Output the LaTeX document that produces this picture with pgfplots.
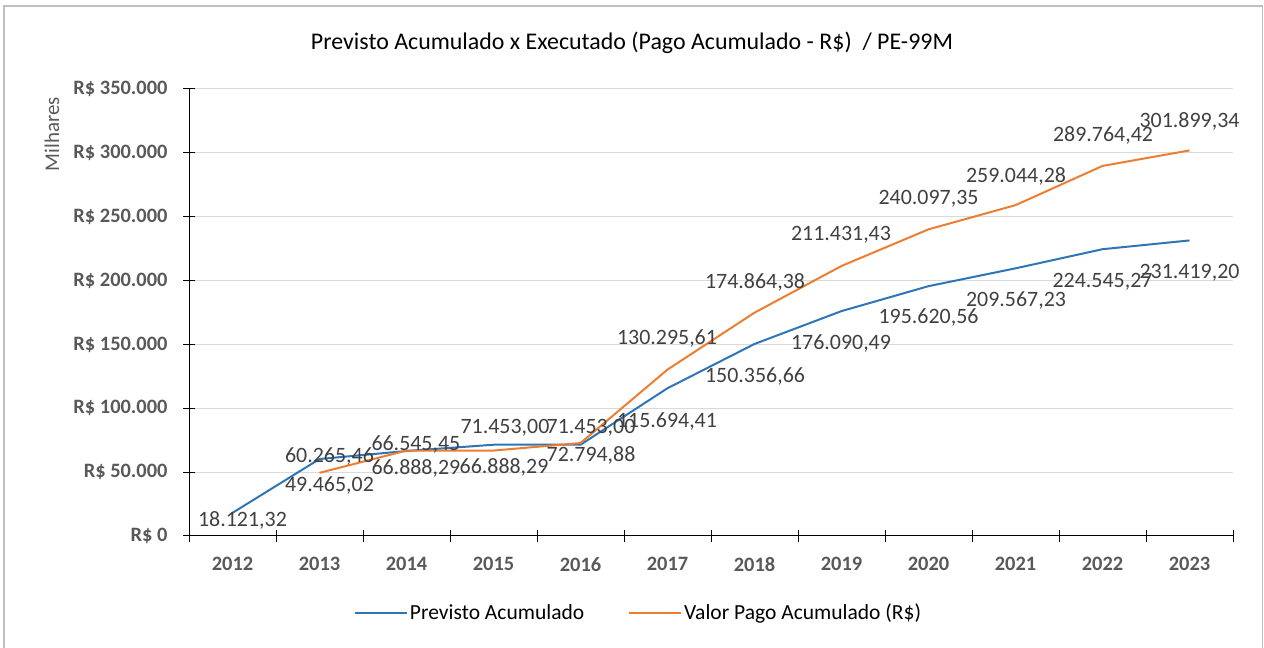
\documentclass[border=0pt]{standalone}
\usepackage{fontspec}
\setmainfont{Carlito}
\usepackage{pgfplots}
\pgfplotsset{compat=1.18}
\definecolor{serblue}{HTML}{2E75B6}
\definecolor{serorange}{HTML}{ED7D31}
\definecolor{lblgray}{HTML}{595959}
\definecolor{datgray}{HTML}{404040}
\definecolor{gridgray}{HTML}{D9D9D9}
\definecolor{framegray}{HTML}{BFBFBF}
\tikzset{lab/.style={font=\fontsize{22}{26}\selectfont, text=datgray, inner sep=0pt}}
\begin{document}
\begin{tikzpicture}[x=1bp,y=1bp]
\useasboundingbox (0,0) rectangle (1264,648);
\draw[color=framegray, line width=1.5bp] (4,0) -- (4,642) -- (1262.5,642) -- (1262.5,0);
\node[font=\fontsize{24}{28}\selectfont, text=black] at (632,605) {Previsto Acumulado x Executado (Pago Acumulado - R\$)\ \ / PE-99M};
\node[rotate=90, text=lblgray, font=\fontsize{21}{25}\selectfont] at (52,514) {Milhares};
\begin{axis}[
  at={(189bp,112bp)}, anchor=south west,
  scale only axis, width=1044bp, height=447bp,
  xmin=-0.5, xmax=11.5, ymin=0, ymax=350000,
  clip=false,
  axis x line*=bottom, axis y line*=left,
  axis line style={black, line width=1bp, -},
  xtick={0,...,11},
  xticklabels={2012,2013,2014,2015,2016,2017,2018,2019,2020,2021,2022,2023},
  minor xtick={-0.5,0.5,...,11.5},
  major x tick style={draw=none},
  minor x tick style={black, line width=1bp},
  minor tick length=12bp,
  ytick={0,50000,100000,150000,200000,250000,300000,350000},
  yticklabels={R\$ 0,R\$ 50.000,R\$ 100.000,R\$ 150.000,R\$ 200.000,R\$ 250.000,R\$ 300.000,R\$ 350.000},
  scaled y ticks=false,
  major y tick style={black, line width=1bp},
  major tick length=12bp,
  tick align=center,
  ymajorgrids,
  major grid style={gridgray, line width=1bp},
  yticklabel style={font=\bfseries\fontsize{20.5}{24}\selectfont, text=lblgray, xshift=-12bp},
  xticklabel style={font=\bfseries\fontsize{20.5}{24}\selectfont, text=lblgray, yshift=-12bp},
  legend style={at={(0.4306,-0.172)}, anchor=center, draw=none, fill=none,
    legend columns=2, font=\fontsize{21.6}{25}\selectfont,
    /tikz/every even column/.append style={column sep=42bp}},
  legend image code/.code={\draw[#1, line width=2bp] (0bp,0bp) -- (52bp,0bp);},
]
\addplot[serblue, line width=2bp] coordinates {
(0,18121.32) (1,60265.46) (2,66545.45) (3,71453.00) (4,71453.00) (5,115694.41)
(6,150356.66) (7,176090.49) (8,195620.56) (9,209567.23) (10,224545.27) (11,231419.20)};
\addlegendentry{Previsto Acumulado}
\addplot[serorange, line width=2bp] coordinates {
(1,49465.02) (2,66888.29) (3,66888.29) (4,72794.88) (5,130295.61)
(6,174864.38) (7,211431.43) (8,240097.35) (9,259044.28) (10,289764.42) (11,301899.34)};
\addlegendentry{Valor Pago Acumulado (R\$)}
% data labels (blue)
\node[lab] at (axis cs:0.115,12528) {18.121,32};
\node[lab] at (axis cs:1.115,61857) {60.265,46};
\node[lab] at (axis cs:2.108,71253) {66.545,45};
\node[lab] at (axis cs:3.132,84564) {71.453,00};
\node[lab] at (axis cs:4.121,84564) {71.453,00};
\node[lab] at (axis cs:4.994,89262) {115.694,41};
\node[lab] at (axis cs:6.006,124497) {150.356,66};
\node[lab] at (axis cs:6.994,150336) {176.090,49};
\node[lab] at (axis cs:8.0,170694) {195.620,56};
\node[lab] at (axis cs:9.006,184005) {209.567,23};
\node[lab] at (axis cs:10.0,198882) {224.545,27};
\node[lab] at (axis cs:11.0,205929) {231.419,20};
% data labels (orange)
\node[lab] at (axis cs:1.115,39150) {49.465,02};
\node[lab] at (axis cs:2.108,53244) {66.888,29};
\node[lab] at (axis cs:3.121,54027) {66.888,29};
\node[lab] at (axis cs:4.121,63423) {72.794,88};
\node[lab] at (axis cs:4.994,154251) {130.295,61};
\node[lab] at (axis cs:6.006,198882) {174.864,38};
\node[lab] at (axis cs:6.994,235683) {211.431,43};
\node[lab] at (axis cs:8.0,263871) {240.097,35};
\node[lab] at (axis cs:9.006,281880) {259.044,28};
\node[lab] at (axis cs:10.006,313983) {289.764,42};
\node[lab] at (axis cs:11.0,324945) {301.899,34};
\end{axis}
\end{tikzpicture}
\end{document}
